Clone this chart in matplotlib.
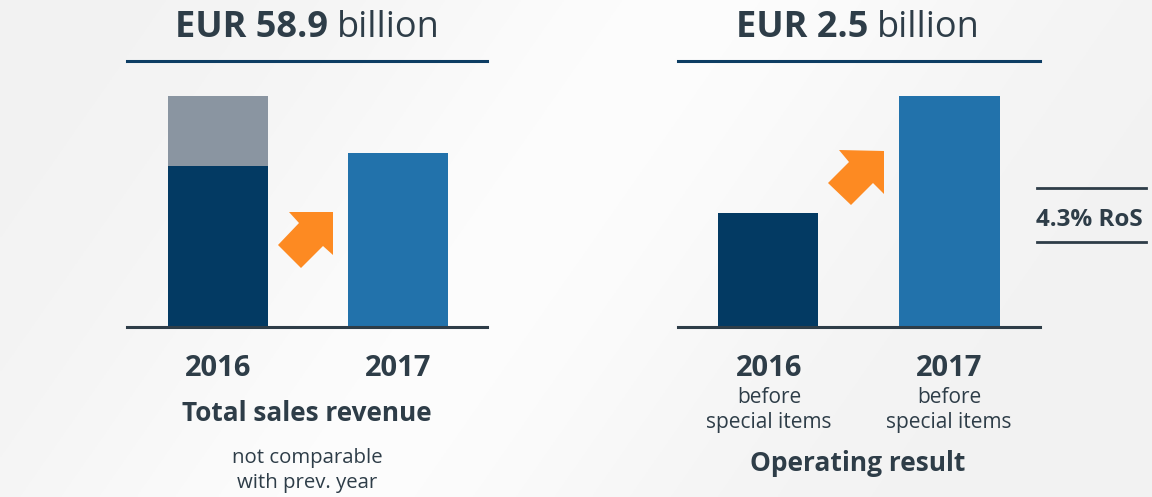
import matplotlib
matplotlib.use("Agg")
import matplotlib.pyplot as plt
from matplotlib.patches import Polygon
import numpy as np

# ---- data ----
years = ["2016", "2017"]
revenue_core = [54.5, 58.9]          # dark / blue part
revenue_extra = [23.7, 0.0]          # grey part (2016 not comparable)
op_result = [1.23, 2.5]
rev_title_bold, rev_title_reg = "EUR 58.9", "billion"
op_title_bold, op_title_reg = "EUR 2.5", "billion"
rev_label = "Total sales revenue"
rev_note = "not comparable\nwith prev. year"
op_sub = "before\nspecial items"
op_label = "Operating result"
ros_label = "4.3% RoS"

W, H = 1152, 497
DARK = "#033a63"
GREY = "#8a95a1"
BLUE = "#2272ab"
ORANGE = "#fd8a22"
TXT = "#2e3d48"
LINE = "#2e3d48"
NAVY = "#0d3d63"
FONT = "Open Sans"

fig = plt.figure(figsize=(W / 100, H / 100), dpi=100)
fig.patch.set_facecolor("#f3f3f3")

# subtle background with lighter diagonal band
bg = fig.add_axes([0, 0, 1, 1], zorder=-10)
yy, xx = np.mgrid[0:1:200j, 0:1:400j]
val = 0.95 + 0.04 * np.exp(-((xx * 1.0 - 0.45 + (yy - 0.5) * 0.3) ** 2) / 0.08)
val = np.clip(val, 0, 1)
bg.imshow(np.dstack([val, val, val]), extent=[0, 1, 0, 1], aspect="auto")
bg.set_axis_off()


def px_axes(x0, x1, ytop, ybot):
    return fig.add_axes([x0 / W, 1 - ybot / H, (x1 - x0) / W, (ybot - ytop) / H])


def style(ax):
    ax.patch.set_alpha(0)
    for s in ["top", "right", "left"]:
        ax.spines[s].set_visible(False)
    ax.spines["bottom"].set_color(LINE)
    ax.spines["bottom"].set_linewidth(2.2)
    ax.set_xticks([])
    ax.set_yticks([])


def arrow(ax, pts):
    ax.add_patch(Polygon(pts, closed=True, transform=ax.transAxes,
                         facecolor=ORANGE, edgecolor="none", zorder=3, clip_on=False))


def ax_pts(x0, x1, ytop, ybot, pts):
    return [((px - x0) / (x1 - x0), (ybot - py) / (ybot - ytop)) for px, py in pts]


# ---- left panel ----
axL = px_axes(127, 487, 96, 327)
style(axL)
x = np.arange(len(years))
axL.bar(x, revenue_core, width=0.556, color=[DARK, BLUE], zorder=2)
axL.bar(x, revenue_extra, bottom=revenue_core, width=0.556, color=GREY, zorder=2)
axL.set_xlim(-91 / 180, (360 - 91) / 180)
axL.set_ylim(0, revenue_core[0] + revenue_extra[0])
arrow(axL, ax_pts(127, 487, 96, 327,
                  [(289, 212), (333, 212), (333, 255), (323, 246), (301, 268), (278, 245), (299, 223)]))

# ---- right panel ----
axR = px_axes(678, 1040, 96, 327)
style(axR)
axR.bar(x, op_result, width=0.551, color=[DARK, BLUE], zorder=2)
axR.set_xlim(-90 / 181.5, (362 - 90) / 181.5)
axR.set_ylim(0, max(op_result))
arrow(axR, ax_pts(678, 1040, 96, 327,
                  [(839, 150), (884, 151), (884, 194), (873, 183), (851, 205), (828, 183), (849, 162)]))


# ---- texts & decorations in pixel coords ----
def ftxt(px, py, s, **kw):
    kw.setdefault("family", FONT)
    kw.setdefault("color", TXT)
    return fig.text(px / W, 1 - py / H, s, **kw)


def title(cx, py, bold, reg):
    r = fig.canvas.get_renderer()
    t1 = ftxt(0, py, bold, fontsize=26, fontweight="bold", va="baseline", ha="left")
    t2 = ftxt(0, py, reg, fontsize=26, va="baseline", ha="left")
    w1 = t1.get_window_extent(r).width
    w2 = t2.get_window_extent(r).width
    sp = 9
    start = cx - (w1 + w2 + sp) / 2
    t1.set_x(start / W)
    t2.set_x((start + w1 + sp) / W)


title(307, 37, rev_title_bold, rev_title_reg)
title(858, 37, op_title_bold, op_title_reg)

for (xa, xb) in [(127, 487), (678, 1040)]:
    fig.add_artist(plt.Line2D([xa / W, xb / W], [1 - 61 / H] * 2, color=NAVY, lw=2.2))

# left labels
for cx, yr in zip([218, 398], years):
    ftxt(cx, 376, yr, fontsize=21, fontweight="bold", ha="center", va="baseline")
ftxt(307, 421, rev_label, fontsize=18.8, fontweight="bold", ha="center", va="baseline")
ftxt(307, 463, rev_note.split("\n")[0], fontsize=14.7, ha="center", va="baseline")
ftxt(307, 488, rev_note.split("\n")[1], fontsize=14.7, ha="center", va="baseline")

# right labels
for cx, yr in zip([769, 949], years):
    ftxt(cx, 376, yr, fontsize=21, fontweight="bold", ha="center", va="baseline")
    ftxt(cx, 403, op_sub.split("\n")[0], fontsize=15, ha="center", va="baseline")
    ftxt(cx, 428, op_sub.split("\n")[1], fontsize=15, ha="center", va="baseline")
ftxt(858, 471, op_label, fontsize=19, fontweight="bold", ha="center", va="baseline")

# RoS box
for yl in [188, 242]:
    fig.add_artist(plt.Line2D([1037 / W, 1146 / W], [1 - yl / H] * 2, color=LINE, lw=2))
ftxt(1089, 226, ros_label, fontsize=17.5, fontweight="bold", ha="center", va="baseline")

fig.savefig("out.png", dpi=100, facecolor=fig.get_facecolor())
